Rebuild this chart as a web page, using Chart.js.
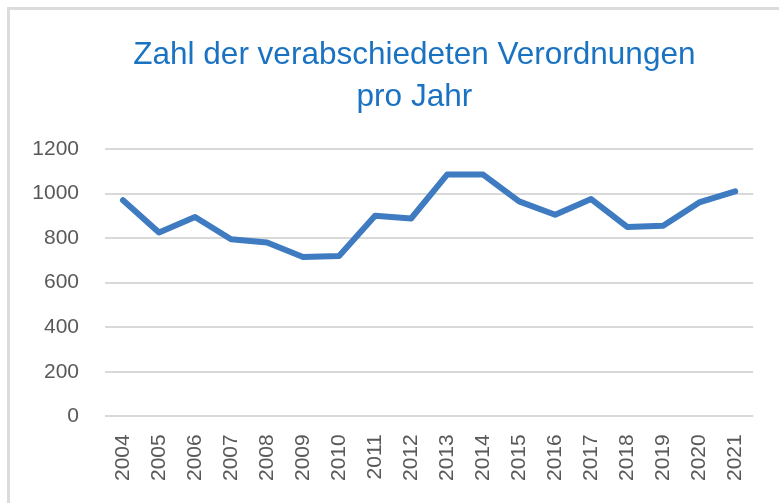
<!DOCTYPE html>
<html lang="de">
<head>
<meta charset="utf-8">
<title>Zahl der verabschiedeten Verordnungen pro Jahr</title>
<script src="https://cdn.jsdelivr.net/npm/chart.js@4/dist/chart.umd.min.js"></script>
<style>
    html, body {
        margin: 0;
        padding: 0;
        background: #ffffff;
    }
    #wrap {
        position: relative;
        width: 779px;
        height: 503px;
        overflow: hidden;
    }
    #frame {
        position: absolute;
        left: 7px;
        top: 7px;
        width: 780px;
        height: 494px;
        border-left: 3px solid #dcdcdc;
        border-top: 3px solid #dcdcdc;
        border-bottom: 1px solid #e4e4e4;
        pointer-events: none;
    }
    canvas {
        position: absolute;
        left: 0;
        top: 0;
    }
</style>
</head>
<body>
<div id="wrap">
    <canvas id="regChart" width="779" height="503"></canvas>
    <div id="frame"></div>
</div>
<script>
// Jahre (Kategorien)
const years = ['2004', '2005', '2006', '2007', '2008', '2009', '2010', '2011', '2012',
               '2013', '2014', '2015', '2016', '2017', '2018', '2019', '2020', '2021'];

// Zahl der verabschiedeten Verordnungen
const regulations = [970, 825, 895, 795, 780, 715, 720, 900, 888,
                     1085, 1085, 965, 905, 975, 850, 855, 960, 1010];

// Achsenbeschriftung y
const yTicks = [0, 200, 400, 600, 800, 1000, 1200];

// leading spaces nudge the centred title over the plot like in the original
const titleLines = ['     Zahl der verabschiedeten Verordnungen', '     pro Jahr'];

const ctx = document.getElementById('regChart').getContext('2d');

const chart = new Chart(ctx, {
    type: 'line',
    data: {
        labels: years,
        datasets: [
            {
                label: 'Verordnungen',
                data: regulations,
                borderColor: '#3f7bc1',
                backgroundColor: '#3f7bc1',
                borderWidth: 6,
                borderCapStyle: 'round',
                borderJoinStyle: 'round',
                fill: false,
                tension: 0,
                pointRadius: 0,
                pointHoverRadius: 0
            }
        ]
    },
    options: {
        responsive: false,
        animation: false,
        devicePixelRatio: 1,
        layout: {
            padding: { left: 28, right: 22, top: 0, bottom: 4 }
        },
        plugins: {
            legend: { display: false },
            tooltip: { enabled: false },
            title: {
                display: true,
                text: titleLines,
                color: '#1a72c2',
                font: {
                    family: "'Liberation Sans', Arial, sans-serif",
                    size: 31.5,
                    weight: 'normal',
                    lineHeight: 42 / 31.5
                },
                padding: { top: 34, bottom: 31 }
            }
        },
        scales: {
            x: {
                offset: true,
                grid: { display: false, drawTicks: false },
                border: { display: false },
                ticks: {
                    autoSkip: false,
                    minRotation: 90,
                    maxRotation: 90,
                    padding: 18,
                    color: '#595959',
                    font: {
                        family: "'Liberation Sans', Arial, sans-serif",
                        size: 21
                    }
                }
            },
            y: {
                min: 0,
                max: 1200,
                afterFit: (scale) => { scale.width = 77; },
                afterBuildTicks: (scale) => {
                    scale.ticks = yTicks.map(v => ({ value: v }));
                },
                grid: {
                    color: '#d9d9d9',
                    lineWidth: 2,
                    drawTicks: false
                },
                border: { display: false },
                ticks: {
                    padding: 26,
                    color: '#595959',
                    font: {
                        family: "'Liberation Sans', Arial, sans-serif",
                        size: 21
                    },
                    callback: (value) => String(value)
                }
            }
        }
    }
});
</script>
</body>
</html>
